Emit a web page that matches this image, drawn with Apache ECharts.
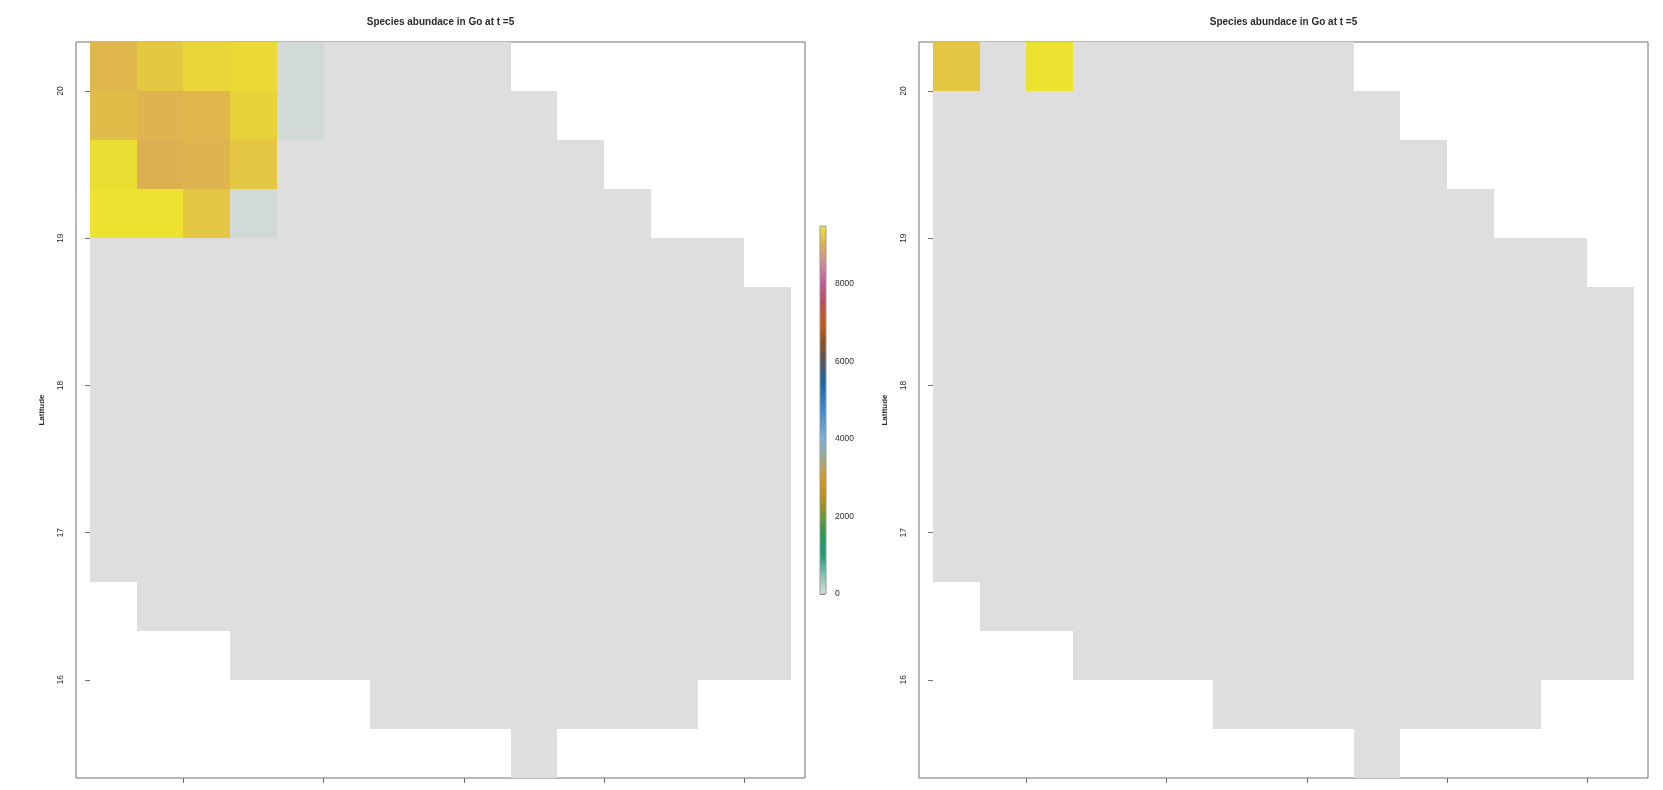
<!DOCTYPE html>
<html lang="en">
<head>
    <meta charset="utf-8">
    <title>Species abundance</title>
    <script src="https://cdn.jsdelivr.net/npm/echarts@6/dist/echarts.min.js"></script>
    <style>
        html, body { margin: 0; padding: 0; background: #fff; }
    </style>
</head>
<body>
<div id="main" style="width:1663px;height:790px"></div>
<script type="text/javascript">
    var _ = null; // cell outside the landscape

    // top row first, one row is 1/3 of a degree
    var abundanceLeft = [
        [9070, 9240, 9380, 9420,   70,    0,    0,    0,    0,    _,    _,    _,    _,    _,    _],
        [9120, 9040, 9070, 9340,   70,    0,    0,    0,    0,    0,    _,    _,    _,    _,    _],
        [9450, 9000, 9040, 9220,    0,    0,    0,    0,    0,    0,    0,    _,    _,    _,    _],
        [9500, 9500, 9220,   70,    0,    0,    0,    0,    0,    0,    0,    0,    _,    _,    _],
        [   0,    0,    0,    0,    0,    0,    0,    0,    0,    0,    0,    0,    0,    0,    _],
        [   0,    0,    0,    0,    0,    0,    0,    0,    0,    0,    0,    0,    0,    0,    0],
        [   0,    0,    0,    0,    0,    0,    0,    0,    0,    0,    0,    0,    0,    0,    0],
        [   0,    0,    0,    0,    0,    0,    0,    0,    0,    0,    0,    0,    0,    0,    0],
        [   0,    0,    0,    0,    0,    0,    0,    0,    0,    0,    0,    0,    0,    0,    0],
        [   0,    0,    0,    0,    0,    0,    0,    0,    0,    0,    0,    0,    0,    0,    0],
        [   0,    0,    0,    0,    0,    0,    0,    0,    0,    0,    0,    0,    0,    0,    0],
        [   _,    0,    0,    0,    0,    0,    0,    0,    0,    0,    0,    0,    0,    0,    0],
        [   _,    _,    _,    0,    0,    0,    0,    0,    0,    0,    0,    0,    0,    0,    0],
        [   _,    _,    _,    _,    _,    _,    0,    0,    0,    0,    0,    0,    0,    _,    _],
        [   _,    _,    _,    _,    _,    _,    _,    _,    _,    0,    _,    _,    _,    _,    _]
    ];
    var abundanceRight = [
        [9220,    0, 9500,    0,    0,    0,    0,    0,    0,    _,    _,    _,    _,    _,    _],
        [   0,    0,    0,    0,    0,    0,    0,    0,    0,    0,    _,    _,    _,    _,    _],
        [   0,    0,    0,    0,    0,    0,    0,    0,    0,    0,    0,    _,    _,    _,    _],
        [   0,    0,    0,    0,    0,    0,    0,    0,    0,    0,    0,    0,    _,    _,    _],
        [   0,    0,    0,    0,    0,    0,    0,    0,    0,    0,    0,    0,    0,    0,    _],
        [   0,    0,    0,    0,    0,    0,    0,    0,    0,    0,    0,    0,    0,    0,    0],
        [   0,    0,    0,    0,    0,    0,    0,    0,    0,    0,    0,    0,    0,    0,    0],
        [   0,    0,    0,    0,    0,    0,    0,    0,    0,    0,    0,    0,    0,    0,    0],
        [   0,    0,    0,    0,    0,    0,    0,    0,    0,    0,    0,    0,    0,    0,    0],
        [   0,    0,    0,    0,    0,    0,    0,    0,    0,    0,    0,    0,    0,    0,    0],
        [   0,    0,    0,    0,    0,    0,    0,    0,    0,    0,    0,    0,    0,    0,    0],
        [   _,    0,    0,    0,    0,    0,    0,    0,    0,    0,    0,    0,    0,    0,    0],
        [   _,    _,    _,    0,    0,    0,    0,    0,    0,    0,    0,    0,    0,    0,    0],
        [   _,    _,    _,    _,    _,    _,    0,    0,    0,    0,    0,    0,    0,    _,    _],
        [   _,    _,    _,    _,    _,    _,    _,    _,    _,    0,    _,    _,    _,    _,    _]
    ];

    var titleText = 'Species abundace in Go at t =5';
    var yTitle = 'Latitude';
    var latTop = 20 + 1 / 3;
    var latStep = 1 / 3;
    var latTicks = [16, 17, 18, 19, 20];
    var lonTicks = [2, 5, 8, 11, 14]; // column edges, the picture has no labels here
    var colorbarTicks = [0, 2000, 4000, 6000, 8000];
    var colorbarMax = 9500;
    // one colour per 500 units, from 0 to 9500
    var colorbarColors = [
        '#dedede', '#80c4b0', '#1e9a78', '#1f9a5a', '#709a30',
        '#c09010', '#d89a20', '#a0a888', '#78b0e0', '#4f98d0',
        '#2f80c0', '#1565a8', '#555555', '#905020', '#cc5a14',
        '#c04a50', '#c4589c', '#d0889a', '#dcb050', '#eee230'
    ];

    var myChart = echarts.init(document.getElementById('main'));
    var fontName = '"Liberation Sans", Arial, sans-serif';
    var axisGray = '#707070';
    var textColor = '#2a2a2a';

    function toCells(matrix) {
        var cells = [];
        matrix.forEach(function (row, r) {
            row.forEach(function (v, c) {
                if (v !== null) {
                    cells.push([c, latTop - r * latStep, v]);
                }
            });
        });
        return cells;
    }

    function renderCell(params, api) {
        var a = api.coord([api.value(0), api.value(1)]);
        var b = api.coord([api.value(0) + 1, api.value(1) - latStep]);
        var x = Math.round(a[0]), y = Math.round(a[1]);
        return {
            type: 'rect',
            shape: { x: x, y: y, width: Math.round(b[0]) - x, height: Math.round(b[1]) - y },
            style: { fill: api.visual('color') }
        };
    }

    function mapGrid(left) {
        return { left: left, top: 42, width: 729, height: 736, show: true, borderColor: axisGray, borderWidth: 1, backgroundColor: '#fff' };
    }

    function lonAxis(gridIndex) {
        return {
            type: 'value', gridIndex: gridIndex, min: -0.3, max: 15.3,
            splitLine: { show: false },
            axisLine: { show: false },
            axisLabel: { show: false },
            axisTick: { show: true, length: 5, customValues: lonTicks, lineStyle: { color: axisGray } }
        };
    }

    function latAxis(gridIndex) {
        return {
            type: 'value', gridIndex: gridIndex, min: latTop - 15 * latStep, max: latTop,
            name: yTitle, nameLocation: 'middle', nameRotate: 90, nameGap: 30,
            nameTextStyle: { fontFamily: fontName, fontSize: 8, fontWeight: 'bold', color: textColor },
            splitLine: { show: false },
            axisLine: { show: false },
            axisTick: { show: true, length: 5, customValues: latTicks, lineStyle: { color: axisGray } },
            axisLabel: {
                customValues: latTicks, rotate: 90, margin: 11,
                fontFamily: fontName, fontSize: 8.5, color: textColor
            }
        };
    }

    function cellSeries(gridIndex, matrix) {
        return {
            type: 'custom', xAxisIndex: gridIndex, yAxisIndex: gridIndex,
            renderItem: renderCell, silent: true, clip: true,
            encode: { x: 0, y: 1 },
            data: toCells(matrix)
        };
    }

    var option = {
        backgroundColor: '#fff',
        animation: false,
        title: [435.5, 1278.5].map(function (x) {
            return {
                text: titleText, left: x, top: 12, textAlign: 'center',
                textStyle: { fontFamily: fontName, fontSize: 10, fontWeight: 'bold', color: textColor }
            };
        }),
        grid: [
            mapGrid(76),
            mapGrid(919),
            { left: 820, top: 226, width: 6, height: 368, show: true, borderColor: '#999', borderWidth: 1, z: 5 }
        ],
        xAxis: [
            lonAxis(0),
            lonAxis(1),
            { type: 'value', gridIndex: 2, show: false, min: 0, max: 1 }
        ],
        yAxis: [
            latAxis(0),
            latAxis(1),
            {
                type: 'value', gridIndex: 2, position: 'right', min: 0, max: colorbarMax,
                splitLine: { show: false },
                axisLine: { show: false },
                axisTick: { show: true, length: 5, customValues: colorbarTicks, lineStyle: { color: axisGray } },
                axisLabel: {
                    customValues: colorbarTicks, margin: 9, fontFamily: fontName, fontSize: 8.5, color: textColor,
                    formatter: function (v) { return String(v); }
                }
            }
        ],
        visualMap: {
            type: 'continuous', seriesIndex: [0, 1], dimension: 2,
            min: 0, max: colorbarMax,
            left: 820, top: 226, itemWidth: 6, itemHeight: 368, padding: 0,
            calculable: false, hoverLink: false, realtime: false,
            inRange: { color: colorbarColors },
            z: 1
        },
        series: [
            cellSeries(0, abundanceLeft),
            cellSeries(1, abundanceRight)
        ]
    };
    myChart.setOption(option);
</script>
</body>
</html>
